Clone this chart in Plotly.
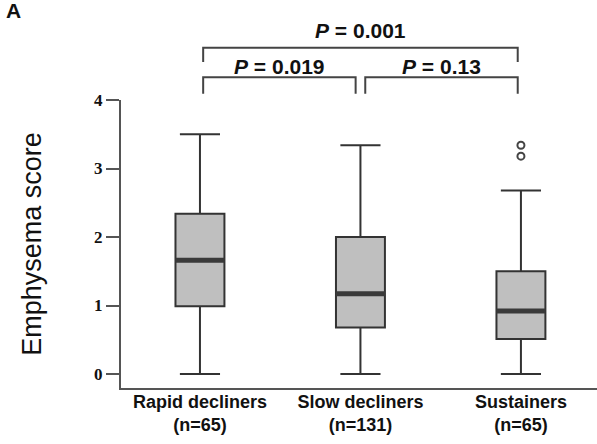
import plotly.graph_objects as go

# ---- data ----
groups = ["Rapid decliners", "Slow decliners", "Sustainers"]
group_n = ["(n=65)", "(n=131)", "(n=65)"]
q1 = [0.99, 0.68, 0.51]
median = [1.66, 1.17, 0.92]
q3 = [2.34, 2.00, 1.50]
lower_fence = [0.0, 0.0, 0.0]
upper_fence = [3.50, 3.34, 2.68]
outlier_group = [2, 2]
outlier_values = [3.34, 3.18]
y_ticks = [0, 1, 2, 3, 4]

# comparisons: (group a, group b, label, level)
comparisons = [
    (0, 2, "<i>P</i> = 0.001", 2),
    (0, 1, "<i>P</i> = 0.019", 1),
    (1, 2, "<i>P</i> = 0.13", 1),
]

xpos = list(range(len(groups)))
box_w = 0.305
line_col = "#333333"
fill_col = "#bfbfbf"

fig = go.Figure()
for i, g in enumerate(groups):
    fig.add_trace(go.Box(
        x=[xpos[i]], q1=[q1[i]], median=[median[i]], q3=[q3[i]],
        lowerfence=[lower_fence[i]], upperfence=[upper_fence[i]],
        width=box_w, whiskerwidth=0.82,
        fillcolor=fill_col, line=dict(color=line_col, width=2),
        boxpoints=False, showlegend=False, name=g,
    ))
    fig.add_trace(go.Scatter(
        x=[xpos[i] - box_w / 2, xpos[i] + box_w / 2], y=[median[i], median[i]],
        mode="lines", line=dict(color="#3a3a3a", width=5),
        showlegend=False, hoverinfo="skip",
    ))

fig.add_trace(go.Scatter(
    x=[xpos[g] for g in outlier_group], y=outlier_values, mode="markers",
    marker=dict(symbol="circle-open", size=7, color="#444444", line=dict(width=2)),
    showlegend=False, cliponaxis=False,
))

# brackets
level_y = {1: (1.079, 1.022), 2: (1.181, 1.132)}
text_y = {1: 1.118, 2: 1.243}
shapes = []
annotations = []
for a, b, label, lvl in comparisons:
    top, bot = level_y[lvl]
    xa = xpos[a] + (0.02 if a == 0 else 0.03)
    xb = xpos[b] - (0.02 if b == 2 else 0.03)
    shapes.append(dict(
        type="path", xref="x", yref="paper",
        path=f"M {xa},{bot} L {xa},{top} L {xb},{top} L {xb},{bot}",
        line=dict(color="#444444", width=2),
    ))
    annotations.append(dict(
        x=(xa + xb) / 2, y=text_y[lvl], xref="x", yref="paper",
        text=label, showarrow=False, xanchor="center", yanchor="middle",
        font=dict(family="Liberation Sans, Arial", size=21, color="#111111", weight="bold"),
    ))

annotations.append(dict(
    x=-0.245, y=1.31, xref="paper", yref="paper", text="A", showarrow=False,
    xanchor="left", yanchor="middle",
    font=dict(family="Liberation Sans, Arial", size=21, color="#111111", weight="bold"),
))

fig.update_layout(
    width=597, height=444,
    margin=dict(l=121, r=0, t=100, b=56),
    plot_bgcolor="white", paper_bgcolor="white",
    shapes=shapes, annotations=annotations,
    xaxis=dict(
        range=[-0.492, 2.474], tickvals=xpos,
        ticktext=[f"{g}<br>{n}" for g, n in zip(groups, group_n)],
        showline=True, linecolor="#555555", linewidth=2,
        showgrid=False, zeroline=False, ticks="",
        ticklabelstandoff=-4,
        tickfont=dict(family="Liberation Sans, Arial", size=18, color="#111111", weight="bold"),
    ),
    yaxis=dict(
        range=[-0.204, 4], tickvals=y_ticks,
        showline=True, linecolor="#555555", linewidth=2,
        ticks="outside", ticklen=13, tickwidth=2, tickcolor="#555555",
        showgrid=False, zeroline=False,
        tickfont=dict(family="Liberation Serif, Times New Roman", size=17, color="#111111", weight="bold"),
        title=dict(text="Emphysema score", standoff=45,
                   font=dict(family="Liberation Sans, Arial", size=27, color="#111111")),
    ),
)

fig.write_html("out.html", config={"displayModeBar": False},
               post_script="document.body.style.margin='0';")
